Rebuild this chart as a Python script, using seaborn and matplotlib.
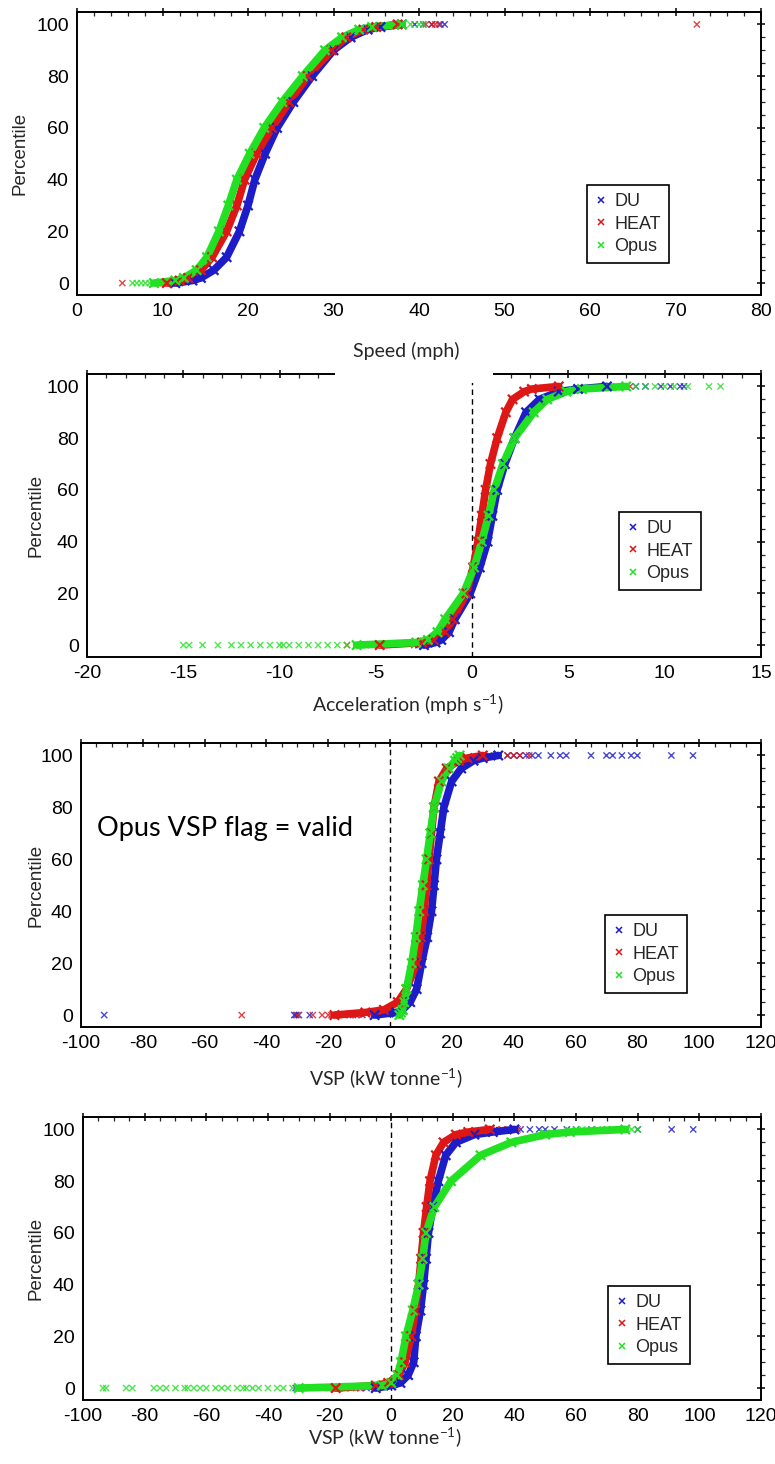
import numpy as np
import pandas as pd
import matplotlib
matplotlib.use("Agg")
import matplotlib.pyplot as plt
import seaborn as sns
from matplotlib.lines import Line2D
from matplotlib.patches import Rectangle
from matplotlib.ticker import MultipleLocator

# ---------------- data ----------------
SERIES = ["DU", "HEAT", "Opus"]
PCT = [0, 1, 2, 5, 10, 20, 30, 40, 50, 60, 70, 80, 90, 95, 98, 99, 100]

# Speed (mph)
speed_du = [11.5, 13.5, 14.5, 16.0, 17.5, 19.0, 20.0, 20.8, 22.0, 23.4, 25.3, 27.5, 30.0, 32.0, 34.0, 35.5, 38.0]
speed_heat = [10.5, 12.0, 13.0, 14.5, 15.8, 17.5, 18.7, 19.6, 21.0, 22.8, 24.8, 27.0, 29.8, 31.5, 33.5, 35.0, 37.5]
speed_opus = [9.0, 11.5, 12.5, 14.0, 15.2, 16.6, 17.7, 18.7, 20.2, 21.9, 24.0, 26.4, 29.0, 31.0, 33.0, 34.5, 38.0]
speed_du_low = [11.0, 12.0]
speed_heat_low = [5.3, 9.5, 10.0]
speed_opus_low = [6.5, 7.0, 7.5, 8.0, 8.5]
speed_du_high = [39.5, 40.5, 41.5, 42.5, 43.0]
speed_heat_high = [40.8, 41.5, 41.9, 42.3, 72.5]
speed_opus_high = [39.0, 40.0, 40.5]

# Acceleration (mph s-1)
acc_du = [-2.5, -1.9, -1.6, -1.2, -0.9, -0.1, 0.4, 0.8, 1.05, 1.3, 1.7, 2.2, 2.8, 3.5, 4.5, 5.5, 7.0]
acc_heat = [-4.8, -2.6, -2.0, -1.4, -1.0, -0.3, 0.05, 0.3, 0.5, 0.7, 0.95, 1.3, 1.75, 2.1, 2.7, 3.1, 4.5]
acc_opus = [-6.0, -2.9, -2.3, -1.8, -1.4, -0.45, 0.1, 0.5, 0.85, 1.15, 1.6, 2.2, 3.2, 3.9, 4.9, 5.7, 8.0]
acc_du_low = [-3.0, -2.8]
acc_heat_low = [-6.5, -6.0, -5.5]
acc_opus_low = [-15.0, -14.7, -14.0, -13.2, -12.5, -12.0, -11.5, -11.0, -10.5, -10.0, -9.8,
                -9.5, -9.0, -8.5, -8.0, -7.5, -7.0, -6.5]
acc_du_high = [7.7, 8.5, 9.0, 9.8, 10.3, 10.8, 11.0]
acc_heat_high = [7.5, 8.2]
acc_opus_high = [8.5, 9.0, 9.5, 10.0, 10.5, 11.2, 12.3, 12.9]

# VSP (kW tonne-1), Opus VSP flag = valid
vspv_du = [-5.0, 2.0, 4.0, 6.5, 8.6, 10.2, 12.0, 13.4, 14.2, 15.0, 16.2, 17.4, 19.9, 23.0, 27.0, 30.0, 35.0]
vspv_heat = [-18.0, -8.0, -2.0, 2.5, 5.3, 8.6, 10.0, 11.0, 11.8, 12.6, 13.4, 14.2, 15.8, 18.3, 22.3, 25.0, 30.0]
vspv_opus = [3.0, 3.5, 4.0, 4.6, 5.3, 7.0, 8.3, 9.4, 10.6, 11.8, 13.0, 14.2, 16.6, 19.0, 21.0, 21.7, 22.5]
vspv_du_low = [-92.5, -31.0, -30.5, -29.5, -26.0, -12.0, -9.0]
vspv_heat_low = [-48.0, -30.0, -25.0, -22.0, -20.0, -19.0, -17.0, -15.0, -13.0, -11.0]
vspv_opus_low = []
vspv_du_high = [38, 40, 42, 44, 46, 48, 52, 55, 57, 65, 70, 72, 75, 78, 80, 91, 98]
vspv_heat_high = [32, 35, 38, 40, 42, 45]
vspv_opus_high = []

# VSP (kW tonne-1), all data
vspa_du = [-5.0, 0.0, 3.0, 5.5, 7.3, 8.0, 9.5, 10.5, 11.3, 12.1, 13.5, 15.3, 17.7, 21.0, 27.0, 33.0, 40.0]
vspa_heat = [-18.0, -5.0, -1.0, 2.5, 4.5, 6.5, 7.8, 8.9, 9.7, 10.5, 11.5, 12.6, 14.5, 17.0, 21.0, 25.0, 32.0]
vspa_opus = [-30.0, -3.0, 0.0, 2.0, 3.2, 4.8, 7.0, 8.9, 10.2, 11.3, 14.0, 19.4, 29.0, 39.0, 50.0, 58.0, 76.0]
vspa_du_low = [-31.0, -30.0, -10.0, -8.0]
vspa_heat_low = [-20.0, -19.0, -17.0, -15.0, -13.0, -10.0]
vspa_opus_low = [-93.5, -92.5, -86, -84, -77, -75, -73, -70, -67, -66, -64, -62, -60, -57, -55,
                 -53, -50, -48, -47, -45, -43, -40, -37, -35, -32]
vspa_du_high = [42, 45, 48, 50, 53, 57, 60, 65, 70, 75, 80, 91, 98]
vspa_heat_high = [34, 36, 38, 40, 41]
vspa_opus_high = [60, 62, 65, 67, 70, 72, 74, 76, 78, 80]

XLABELS = ["Speed (mph)", "Acceleration (mph s$^{-1}$)",
           "VSP (kW tonne$^{-1}$)", "VSP (kW tonne$^{-1}$)"]
YLABEL = "Percentile"
NOTE = "Opus VSP flag = valid"

COLORS = {"DU": "#1c1cc8", "HEAT": "#dd1616", "Opus": "#22e022"}

# ---------------- style ----------------
sns.set_theme(style="white")
plt.rcParams["font.family"] = ["Liberation Sans Narrow", "Liberation Sans", "DejaVu Sans"]
plt.rcParams["mathtext.default"] = "regular"
plt.rcParams["axes.unicode_minus"] = False

W, H = 775, 1464
fig = plt.figure(figsize=(W / 100, H / 100), dpi=100)
fig.patch.set_facecolor("white")


def rect(l, r, t, b):
    return [l / W, 1 - b / H, (r - l) / W, (b - t) / H]


panels = [
    dict(box=(77, 761, 12, 295), xlim=(0, 80), major=10, minor=2, vline=False,
         curves=(speed_du, speed_heat, speed_opus),
         low=(speed_du_low, speed_heat_low, speed_opus_low),
         high=(speed_du_high, speed_heat_high, speed_opus_high),
         leg=(587, 185), xlab_c=(406, 351), ylab_x=20),
    dict(box=(87, 761, 374, 657), xlim=(-20, 15), major=5, minor=1, vline=True,
         curves=(acc_du, acc_heat, acc_opus),
         low=(acc_du_low, acc_heat_low, acc_opus_low),
         high=(acc_du_high, acc_heat_high, acc_opus_high),
         leg=(619, 512), xlab_c=(408, 705), ylab_x=36),
    dict(box=(81, 761, 743, 1027), xlim=(-100, 120), major=20, minor=5, vline=True,
         curves=(vspv_du, vspv_heat, vspv_opus),
         low=(vspv_du_low, vspv_heat_low, vspv_opus_low),
         high=(vspv_du_high, vspv_heat_high, vspv_opus_high),
         leg=(605, 915), xlab_c=(386, 1078), ylab_x=36),
    dict(box=(83, 761, 1117, 1400), xlim=(-100, 120), major=20, minor=5, vline=True,
         curves=(vspa_du, vspa_heat, vspa_opus),
         low=(vspa_du_low, vspa_heat_low, vspa_opus_low),
         high=(vspa_du_high, vspa_heat_high, vspa_opus_high),
         leg=(608, 1286), xlab_c=(385, 1437), ylab_x=36),
]

axes = []
for i, p in enumerate(panels):
    l, r, t, b = p["box"]
    ax = fig.add_axes(rect(l, r, t, b))
    axes.append(ax)
    ax.set_facecolor("white")

    # tails (scattered x markers at 0 and 100 percentile)
    trows = []
    for name, lo, hi in zip(SERIES, p["low"], p["high"]):
        trows += [(name, v, 0.0) for v in lo]
        trows += [(name, v, 100.0) for v in hi]
    tdf = pd.DataFrame(trows, columns=["series", "value", "pct"])
    sns.scatterplot(data=tdf, x="value", y="pct", hue="series", hue_order=SERIES,
                    palette=COLORS, marker="x", s=20, linewidth=1.0, alpha=0.8,
                    legend=False, ax=ax, zorder=2)

    # main cumulative curves
    rows = []
    for name, vals in zip(SERIES, p["curves"]):
        rows += [(name, v, q) for v, q in zip(vals, PCT)]
    df = pd.DataFrame(rows, columns=["series", "value", "pct"])
    sns.lineplot(data=df, x="value", y="pct", hue="series", hue_order=SERIES,
                 palette=COLORS, sort=False, estimator=None, lw=5.5,
                 legend=False, ax=ax, zorder=3)
    sns.scatterplot(data=df, x="value", y="pct", hue="series", hue_order=SERIES,
                    palette=COLORS, marker="x", s=45, linewidth=1.6,
                    legend=False, ax=ax, zorder=3)

    if p["vline"]:
        ax.axvline(0, color="black", lw=1.0, ls=(0, (4, 3)), zorder=1)

    ax.set_xlim(*p["xlim"])
    ax.set_ylim(-4.6, 104.8)
    ax.xaxis.set_major_locator(MultipleLocator(p["major"]))
    ax.xaxis.set_minor_locator(MultipleLocator(p["minor"]))
    ax.yaxis.set_major_locator(MultipleLocator(20))
    ax.yaxis.set_minor_locator(MultipleLocator(5))
    ax.tick_params(axis="both", which="major", direction="inout", length=6, width=1.1,
                   top=True, right=True, labelsize=14, colors="black", pad=3)
    ax.tick_params(axis="both", which="minor", direction="in", length=3, width=0.9,
                   top=True, right=True)
    ax.tick_params(axis="y", which="minor", direction="out")
    for s in ax.spines.values():
        s.set_color("black")
        s.set_linewidth(1.4)

    ax.set_xlabel(XLABELS[i], fontfamily=["Lato", "DejaVu Sans"], fontsize=14)
    ax.xaxis.label.set_va("center")
    cx, cy = p["xlab_c"]
    ax.xaxis.set_label_coords((cx - l) / (r - l), (b - cy) / (b - t))
    ax.set_ylabel(YLABEL, fontsize=13.5, fontfamily=["Liberation Sans", "DejaVu Sans"])
    ax.yaxis.label.set_va("center")
    ax.yaxis.set_label_coords((p["ylab_x"] - l) / (r - l), 0.5)

    handles = [Line2D([], [], ls="none", marker="x", ms=4.5, mew=1.1, color=COLORS[n])
               for n in SERIES]
    lx, ly = p["leg"]
    leg = ax.legend(handles, SERIES, loc="upper left",
                    bbox_to_anchor=((lx - l) / (r - l), (b - ly) / (b - t)),
                    frameon=True, fancybox=False, fontsize=13, handlelength=0.6,
                    handletextpad=0.45, borderpad=0.45, labelspacing=0.3,
                    borderaxespad=0)
    leg.get_frame().set_edgecolor("black")
    leg.get_frame().set_linewidth(1.2)
    leg.get_frame().set_alpha(1)

# annotation on the third panel
axes[2].text(0.024, 0.70, NOTE, transform=axes[2].transAxes, fontsize=19.5,
             fontfamily=["Lato", "DejaVu Sans"], ha="left", va="center", color="black")

# break in the top frame of the second panel behind "Speed (mph)"
fig.add_artist(Rectangle((335 / W, 1 - 383 / H), 158 / W, 20 / H,
                         transform=fig.transFigure, facecolor="white",
                         edgecolor="none", zorder=10))

fig.savefig("out.png", dpi=100, facecolor="white")
